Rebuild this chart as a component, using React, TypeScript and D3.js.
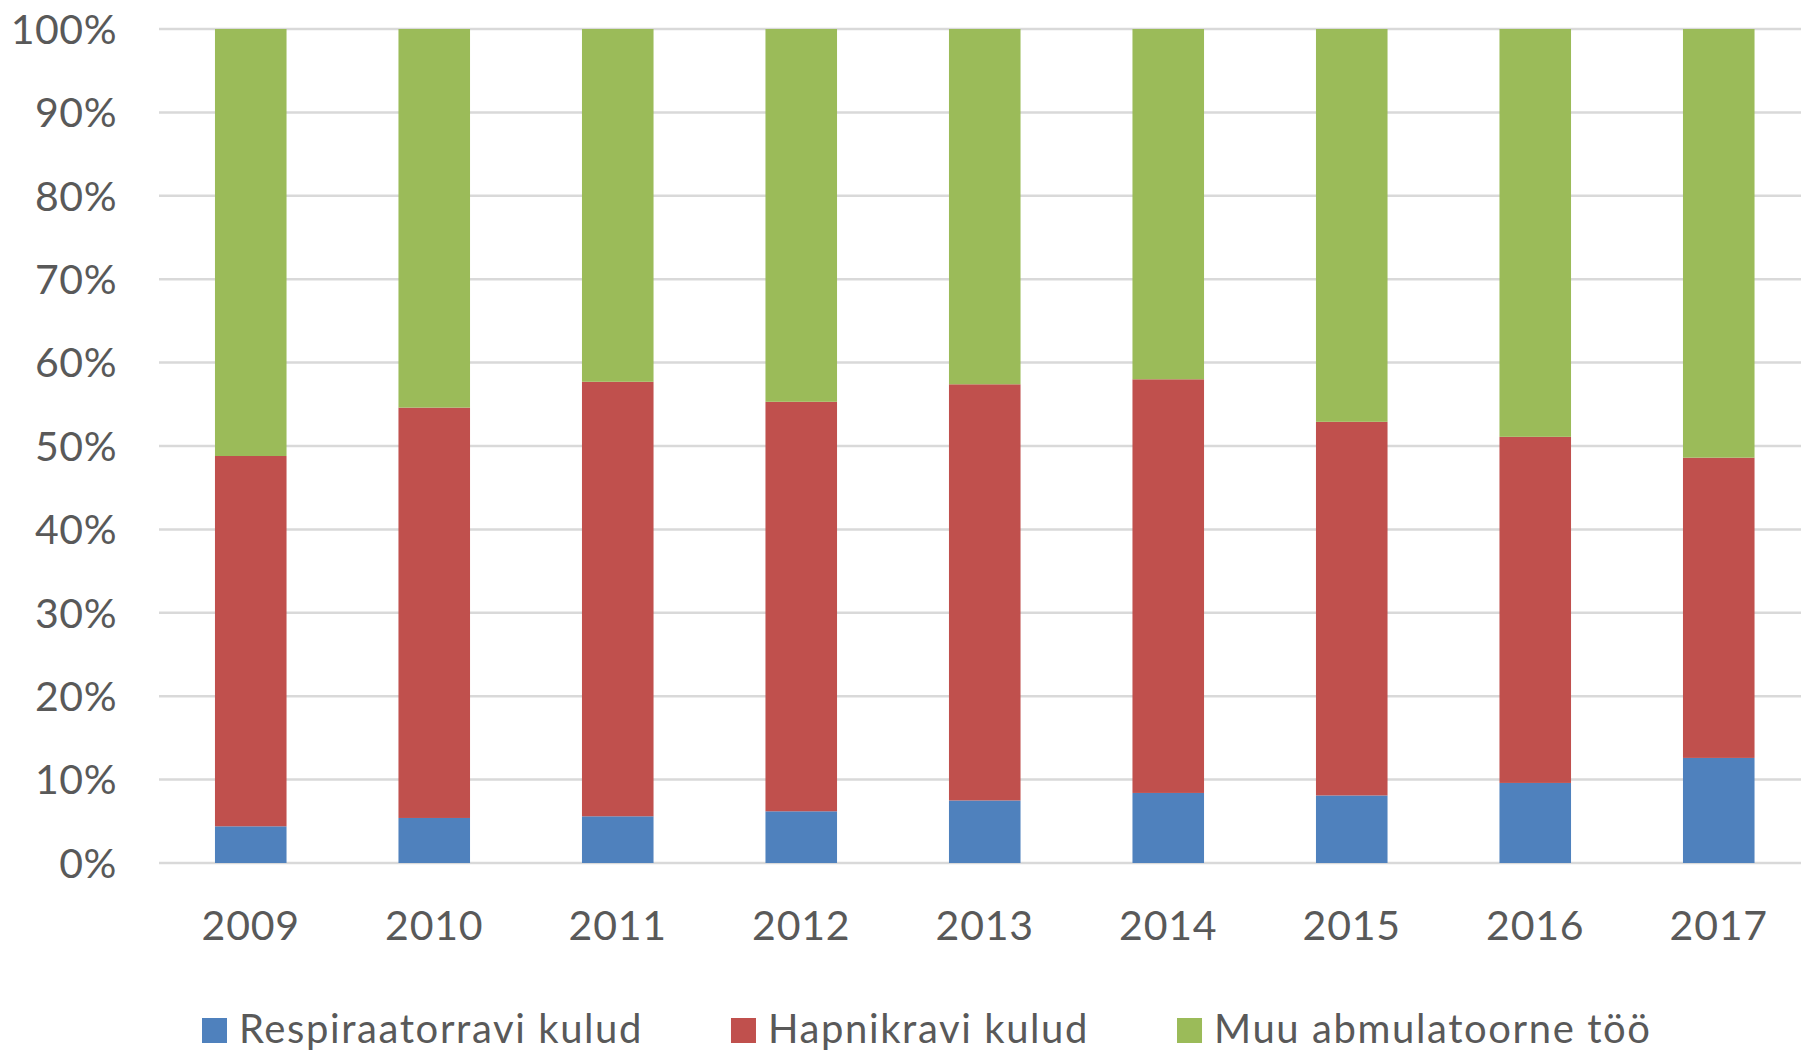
import React, { useEffect, useRef } from "react";
import * as d3 from "d3";

// years on the x axis
const years = ["2009", "2010", "2011", "2012", "2013", "2014", "2015", "2016", "2017"];

// shares of the total, in percent
const respiraator = [4.4, 5.4, 5.6, 6.2, 7.5, 8.4, 8.1, 9.6, 12.6];
const hapnik = [44.4, 49.2, 52.1, 49.1, 49.9, 49.6, 44.8, 41.5, 36.0];
const muu = [51.2, 45.4, 42.3, 44.7, 42.6, 42.0, 47.1, 48.9, 51.4];

const seriesNames = ["Respiraatorravi kulud", "Hapnikravi kulud", "Muu abmulatoorne töö"];
const seriesColors = ["#4F81BD", "#C0504D", "#9BBB59"];
const yTicks = [0, 10, 20, 30, 40, 50, 60, 70, 80, 90, 100];

export default function App() {
    const svgRef = useRef<SVGSVGElement>(null);

    useEffect(() => {
        const W = 1801, H = 1052;
        const svg = d3.select(svgRef.current);
        svg.selectAll("*").remove();

        const font = "Lato, 'Open Sans', sans-serif";
        const textColor = "#595959";

        const x = d3.scaleBand<string>()
            .domain(years)
            .range([159, 159 + 9 * 183.5])
            .paddingInner(0.61)
            .paddingOuter(0.305);

        const y = d3.scaleLinear().domain([0, 100]).range([863, 29]);

        // gridlines
        svg.append("g")
            .selectAll("line")
            .data(yTicks)
            .join("line")
            .attr("x1", 159)
            .attr("x2", W)
            .attr("y1", d => y(d))
            .attr("y2", d => y(d))
            .attr("stroke", "#d9d9d9")
            .attr("stroke-width", 2.5);

        // y labels
        svg.append("g")
            .selectAll("text")
            .data(yTicks)
            .join("text")
            .attr("x", 117)
            .attr("y", d => y(d))
            .attr("dy", "0.36em")
            .attr("text-anchor", "end")
            .style("font-family", font)
            .style("font-size", "41px")
            .style("letter-spacing", "0.5px")
            .attr("fill", textColor)
            .text(d => d + "%");

        // stacked bars
        const rows = years.map((yr, i) => ({ year: yr, s0: respiraator[i], s1: hapnik[i], s2: muu[i] }));
        const stack = d3.stack<any>().keys(["s0", "s1", "s2"]);
        const layers = stack(rows);

        svg.append("g")
            .selectAll("g")
            .data(layers)
            .join("g")
            .attr("fill", (_, i) => seriesColors[i])
            .selectAll("rect")
            .data(d => d)
            .join("rect")
            .attr("x", d => x(d.data.year)!)
            .attr("width", x.bandwidth())
            .attr("y", d => y(d[1]))
            .attr("height", d => y(d[0]) - y(d[1]));

        // x labels
        svg.append("g")
            .selectAll("text")
            .data(years)
            .join("text")
            .attr("x", d => x(d)! + x.bandwidth() / 2)
            .attr("y", 940)
            .attr("text-anchor", "middle")
            .style("font-family", font)
            .style("font-size", "41px")
            .style("letter-spacing", "0.8px")
            .attr("fill", textColor)
            .text(d => d);

        // legend
        const legend = svg.append("g");
        let lx = 202;
        seriesNames.forEach((name, i) => {
            legend.append("rect")
                .attr("x", lx)
                .attr("y", 1018)
                .attr("width", 25)
                .attr("height", 25)
                .attr("fill", seriesColors[i]);
            const t = legend.append("text")
                .attr("x", lx + 37)
                .attr("y", 1043)
                .style("font-family", font)
                .style("font-size", "40px")
                .style("letter-spacing", "1.6px")
                .attr("fill", textColor)
                .text(name);
            const tw = (t.node() as SVGTextElement).getComputedTextLength();
            lx = lx + 37 + tw + 88;
        });

        svg.attr("width", W).attr("height", H);
    }, []);

    return (
        <svg ref={svgRef} width={1801} height={1052}
            style={{ position: "absolute", left: 0, top: 0, background: "#fff" }} />
    );
}
